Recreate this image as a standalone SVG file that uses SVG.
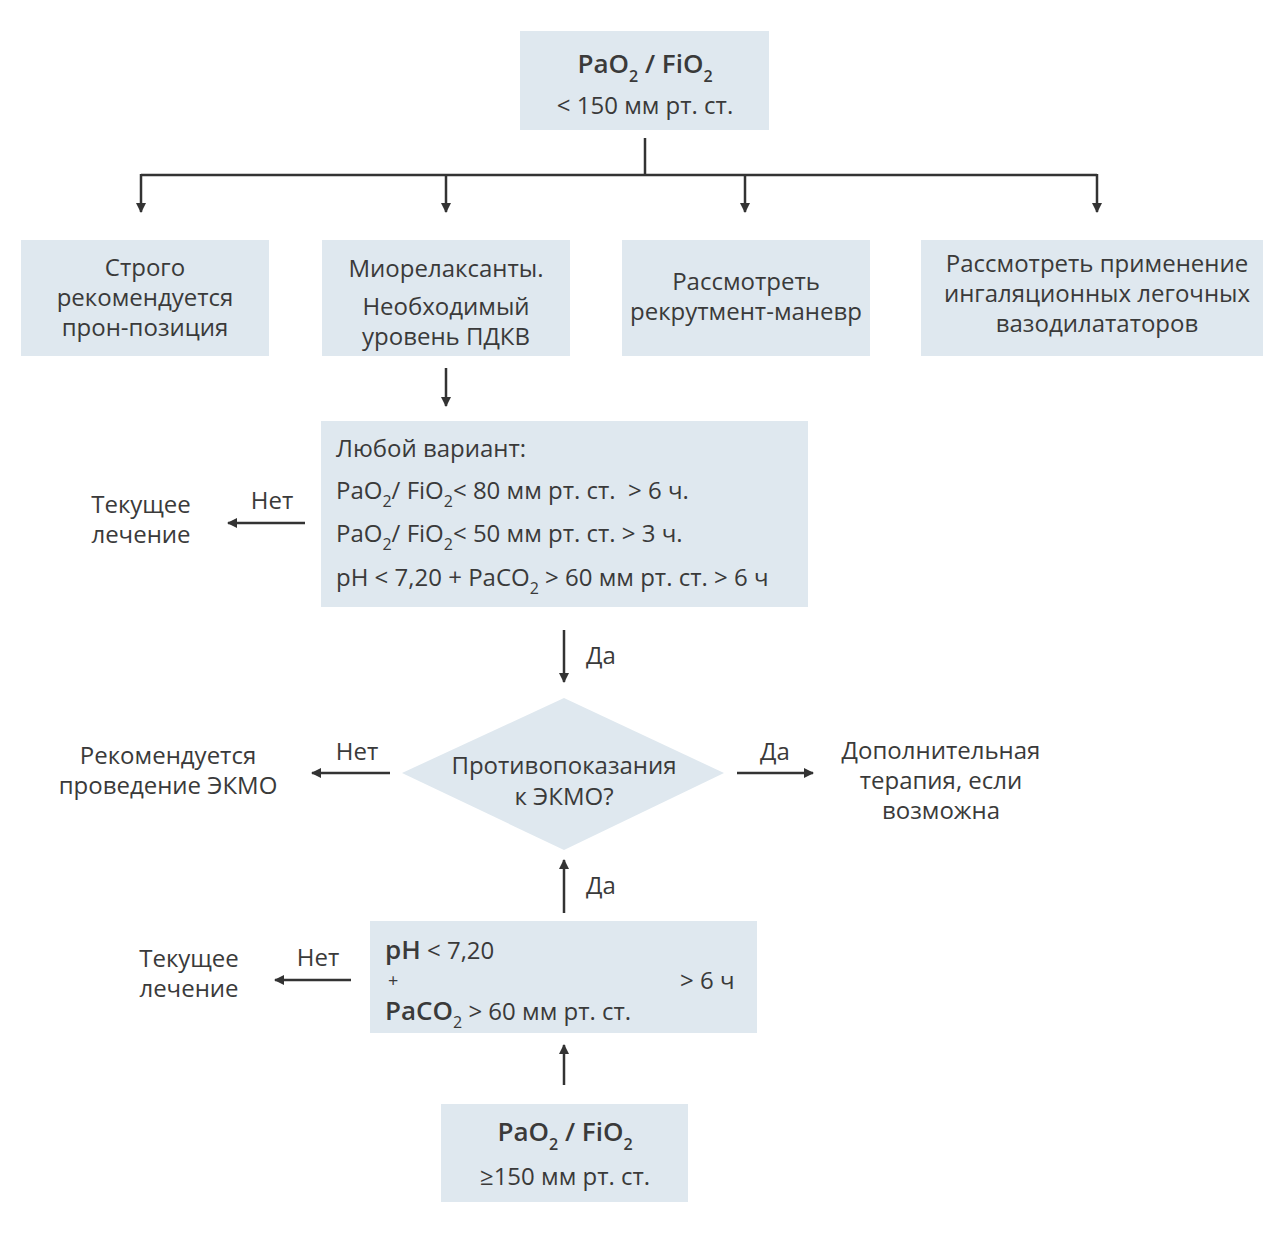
<svg xmlns="http://www.w3.org/2000/svg" width="1263" height="1260" viewBox="0 0 1263 1260">
<defs>
<style>
.box{fill:#dfe8ef}
text{font-family:"Open Sans","DejaVu Sans",sans-serif;fill:#3a3a3a;font-size:24px}
.c{text-anchor:middle}
.b{font-weight:600;font-size:26px}
.s{font-size:16px}
.ln{stroke:#333;stroke-width:2.5;fill:none}
</style>
<marker id="ah" viewBox="0 0 10 10" refX="9" refY="5" markerWidth="4" markerHeight="4" markerUnits="strokeWidth" orient="auto">
<path d="M0,0 L10,5 L0,10 Z" fill="#333"/>
</marker>
</defs>
<rect width="1263" height="1260" fill="#fff"/>

<g id="connectors">
<path class="ln" d="M645,138 V175"/>
<path class="ln" d="M141,175 H1097"/>
<path class="ln" d="M141,174 V212" marker-end="url(#ah)"/>
<path class="ln" d="M446,175 V212" marker-end="url(#ah)"/>
<path class="ln" d="M745,175 V212" marker-end="url(#ah)"/>
<path class="ln" d="M1097,174 V212" marker-end="url(#ah)"/>
<path class="ln" d="M446,368 V406" marker-end="url(#ah)"/>
<path class="ln" d="M305,523 H228" marker-end="url(#ah)"/>
<text x="272" y="509" class="c">Нет</text>
<path class="ln" d="M564,630 V682" marker-end="url(#ah)"/>
<text x="586" y="664">Да</text>
<path class="ln" d="M390,773 H312" marker-end="url(#ah)"/>
<text x="357" y="760" class="c">Нет</text>
<path class="ln" d="M737,773 H813" marker-end="url(#ah)"/>
<text x="775" y="760" class="c">Да</text>
<path class="ln" d="M564,913 V860" marker-end="url(#ah)"/>
<text x="586" y="894">Да</text>
<path class="ln" d="M351,980 H275" marker-end="url(#ah)"/>
<text x="318" y="966" class="c">Нет</text>
<path class="ln" d="M564,1085 V1045" marker-end="url(#ah)"/>
</g>

<g id="n-top">
<rect class="box" x="520" y="31" width="249" height="99"/>
<text x="645" y="73" class="c b">PaO<tspan class="s" dy="9">2</tspan><tspan dy="-9"> / FiO</tspan><tspan class="s" dy="9">2</tspan></text>
<text x="645" y="114" class="c">&lt; 150 мм рт. ст.</text>
</g>

<g id="n-prone">
<rect class="box" x="21" y="240" width="248" height="116"/>
<text x="145" y="276" class="c">Строго</text>
<text x="145" y="306" class="c">рекомендуется</text>
<text x="145" y="336" class="c">прон-позиция</text>
</g>

<g id="n-muscle">
<rect class="box" x="322" y="240" width="248" height="116"/>
<text x="446" y="277" class="c">Миорелаксанты.</text>
<text x="446" y="315" class="c">Необходимый</text>
<text x="446" y="345" class="c">уровень ПДКВ</text>
</g>

<g id="n-recruit">
<rect class="box" x="622" y="240" width="248" height="116"/>
<text x="746" y="290" class="c">Рассмотреть</text>
<text x="746" y="320" class="c">рекрутмент-маневр</text>
</g>

<g id="n-vaso">
<rect class="box" x="921" y="240" width="342" height="116"/>
<text x="1097" y="272" class="c">Рассмотреть применение</text>
<text x="1097" y="302" class="c">ингаляционных легочных</text>
<text x="1097" y="332" class="c">вазодилататоров</text>
</g>

<g id="n-any">
<rect class="box" x="321" y="421" width="487" height="186"/>
<text x="336" y="457">Любой вариант:</text>
<text x="336" y="499">PaO<tspan class="s" dy="8">2</tspan><tspan dy="-8">/ FiO</tspan><tspan class="s" dy="8">2</tspan><tspan dy="-8">&lt; 80 мм рт. ст.&#160; &gt; 6 ч.</tspan></text>
<text x="336" y="542">PaO<tspan class="s" dy="8">2</tspan><tspan dy="-8">/ FiO</tspan><tspan class="s" dy="8">2</tspan><tspan dy="-8">&lt; 50 мм рт. ст. &gt; 3 ч.</tspan></text>
<text x="336" y="586">pH &lt; 7,20 + PaCO<tspan class="s" dy="8">2</tspan><tspan dy="-8"> &gt; 60 мм рт. ст. &gt; 6 ч</tspan></text>
</g>

<g id="n-cur1">
<text x="141" y="513" class="c">Текущее</text>
<text x="141" y="543" class="c">лечение</text>
</g>

<g id="n-diamond">
<path class="box" d="M564,698 L724,773 L564,850 L402,773 Z"/>
<text x="564" y="774" class="c">Противопоказания</text>
<text x="564" y="805" class="c">к ЭКМО?</text>
</g>

<g id="n-ecmo">
<text x="168" y="764" class="c">Рекомендуется</text>
<text x="168" y="794" class="c">проведение ЭКМО</text>
</g>

<g id="n-extra">
<text x="941" y="759" class="c">Дополнительная</text>
<text x="941" y="789" class="c">терапия, если</text>
<text x="941" y="819" class="c">возможна</text>
</g>

<g id="n-ph">
<rect class="box" x="370" y="921" width="387" height="112"/>
<text x="385" y="959"><tspan class="b">pH</tspan> &lt; 7,20</text>
<text x="388" y="987" style="font-size:18px">+</text>
<text x="680" y="989">&gt; 6 ч</text>
<text x="385" y="1020"><tspan class="b">PaCO</tspan><tspan class="s" dy="8">2</tspan><tspan dy="-8"> &gt; 60 мм рт. ст.</tspan></text>
</g>

<g id="n-cur2">
<text x="189" y="967" class="c">Текущее</text>
<text x="189" y="997" class="c">лечение</text>
</g>

<g id="n-bottom">
<rect class="box" x="441" y="1104" width="247" height="98"/>
<text x="565" y="1141" class="c b">PaO<tspan class="s" dy="9">2</tspan><tspan dy="-9"> / FiO</tspan><tspan class="s" dy="9">2</tspan></text>
<text x="565" y="1185" class="c">≥150 мм рт. ст.</text>
</g>
</svg>
